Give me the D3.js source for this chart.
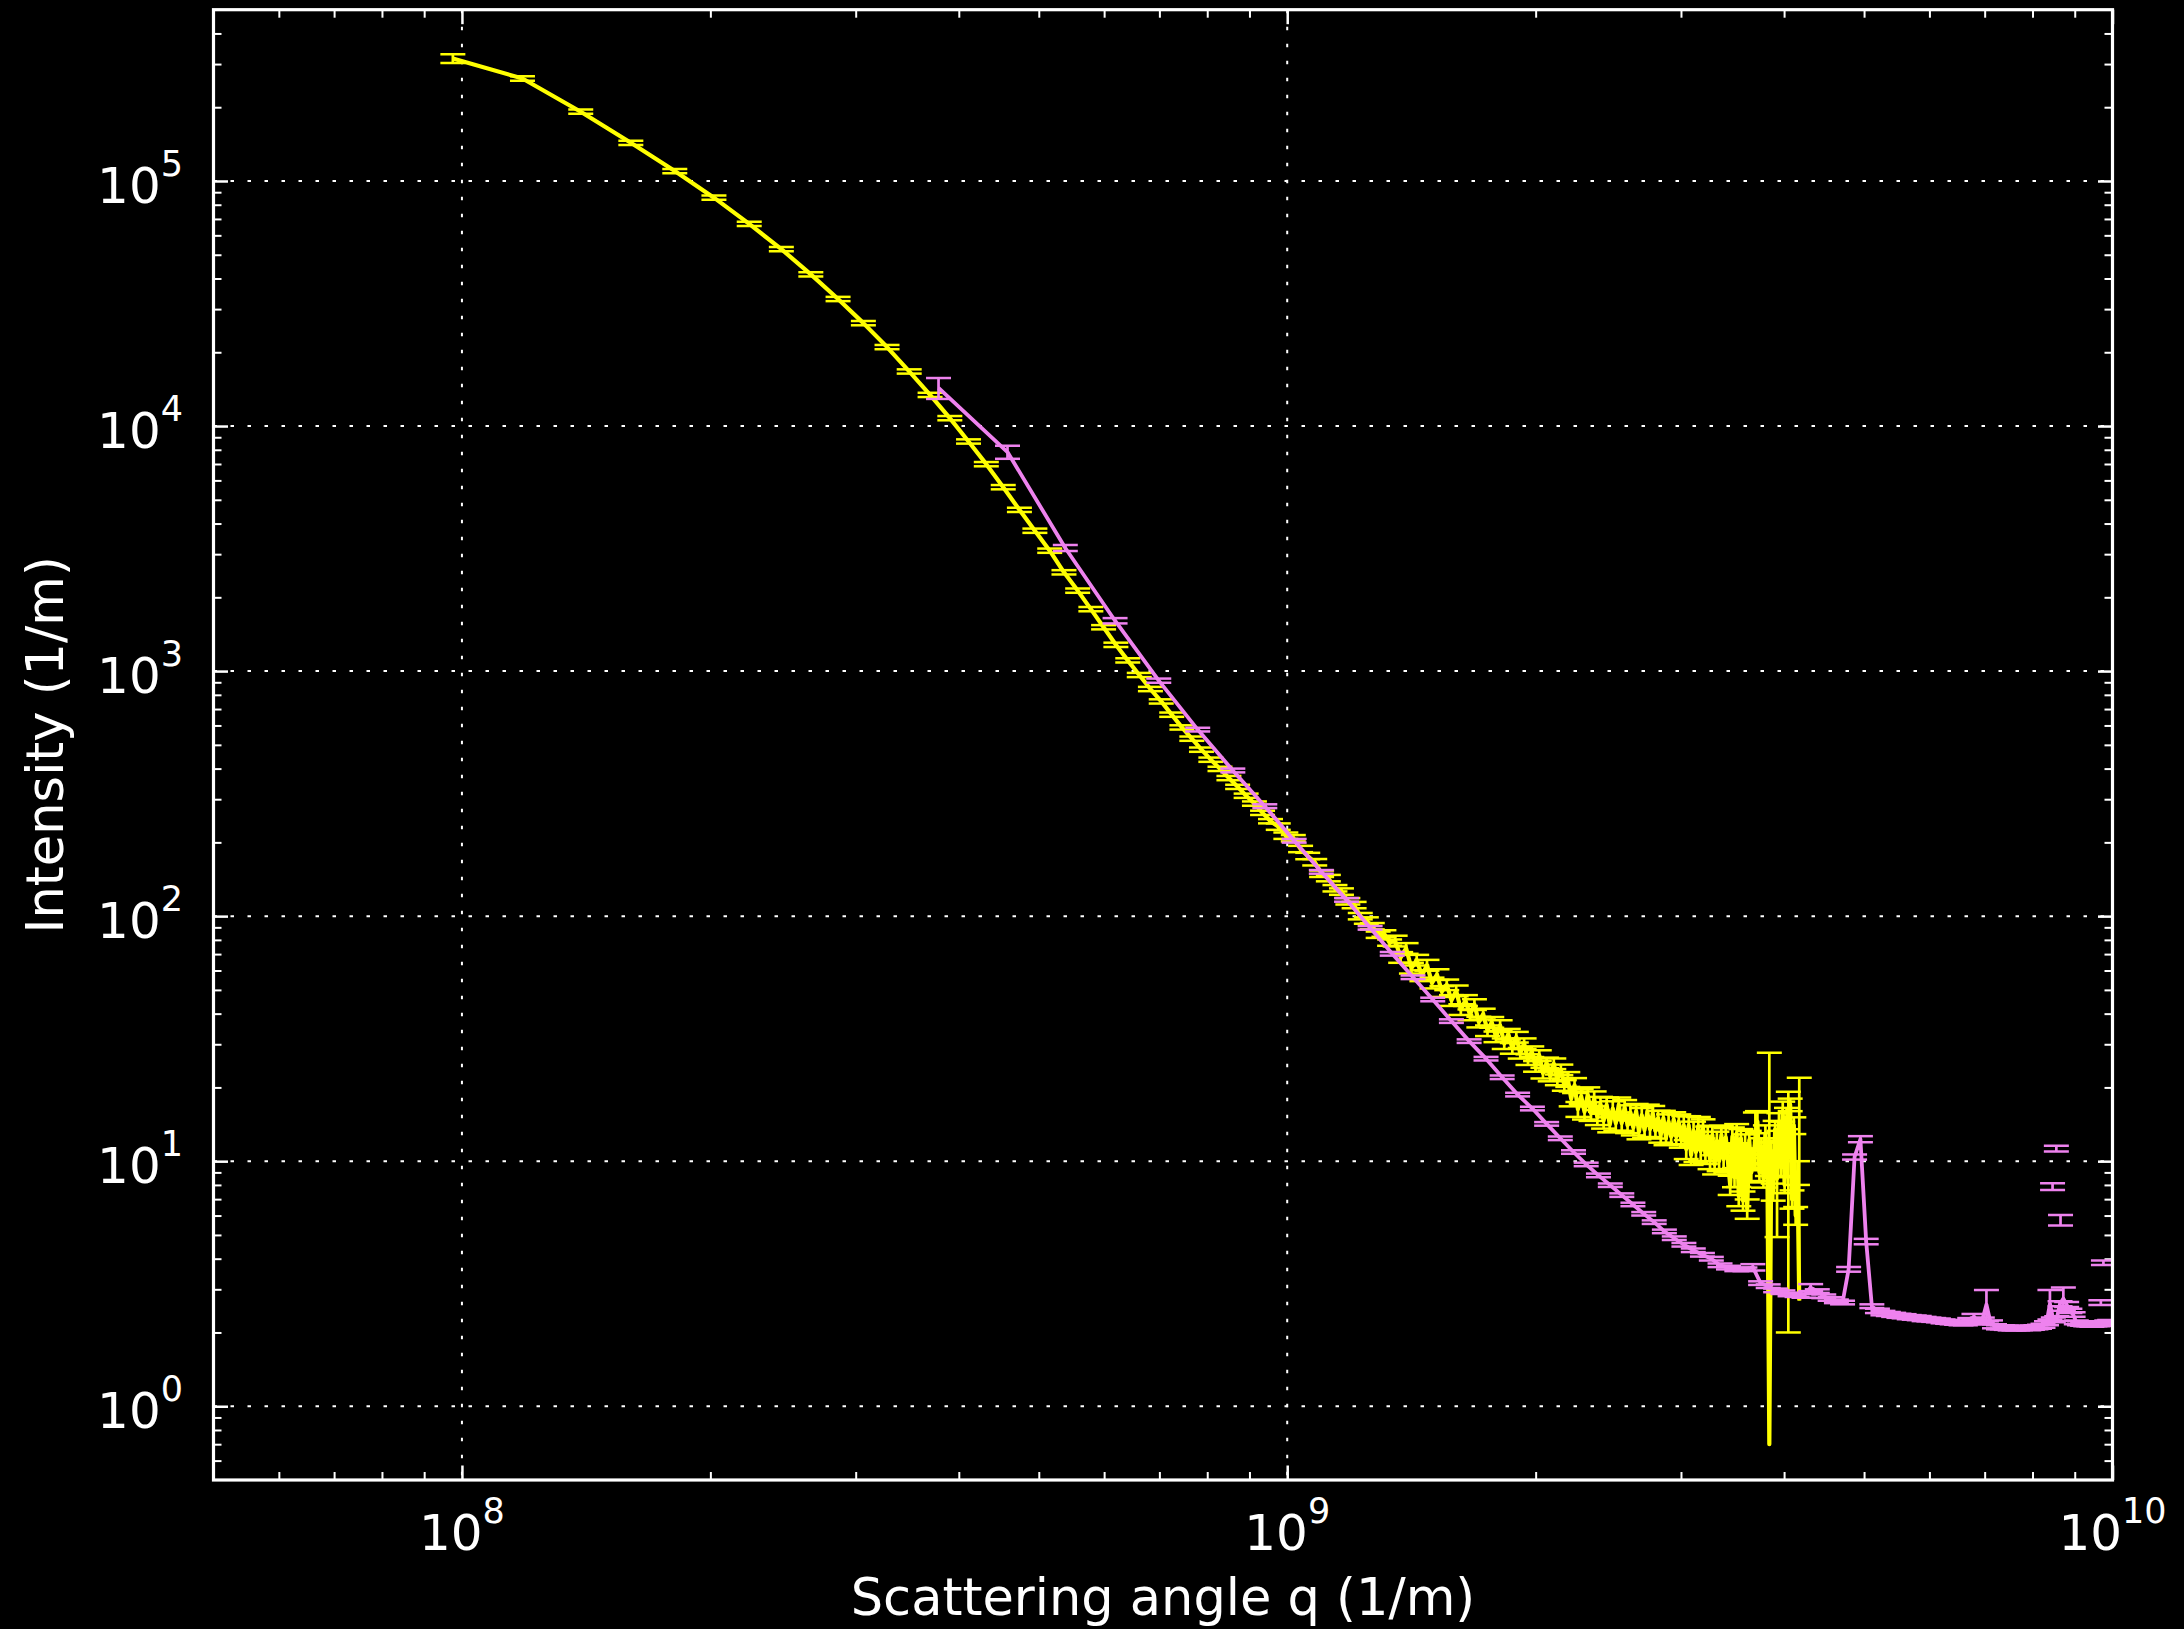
<!DOCTYPE html>
<html>
<head>
<meta charset="utf-8">
<script src="https://cdn.jsdelivr.net/npm/d3@7"></script>
<style>
  html, body { margin: 0; padding: 0; background: #000; }
  svg { display: block; }
</style>
</head>
<body>
<svg id="chart" width="2184" height="1629"></svg>
<script>
// Scattering vector q is stored in units of 1e8 1/m.
const Q_UNIT = 1e8;

// Sample A (yellow): q, intensity, one-sigma error
const sampleAQ = [
  0.975, 1.184, 1.393, 1.602, 1.811, 2.020, 2.229, 2.438, 2.647, 2.856,
  3.065, 3.274, 3.483, 3.692, 3.901, 4.110, 4.319, 4.528, 4.737, 4.946,
  5.155, 5.364, 5.573, 5.782, 5.991, 6.200, 6.409, 6.618, 6.827, 7.036,
  7.245, 7.454, 7.663, 7.872, 8.081, 8.290, 8.499, 8.708, 8.917, 9.126,
  9.335, 9.544, 9.753, 9.962, 10.171, 10.380, 10.589, 10.798, 11.007, 11.216,
  11.425, 11.634, 11.843, 12.052, 12.261, 12.470, 12.679, 12.888, 13.097, 13.306,
  13.515, 13.724, 13.933, 14.142, 14.351, 14.560, 14.769, 14.978, 15.187, 15.396,
  15.605, 15.814, 16.023, 16.232, 16.441, 16.650, 16.859, 17.068, 17.277, 17.486,
  17.695, 17.904, 18.113, 18.322, 18.531, 18.740, 18.949, 19.158, 19.367, 19.576,
  19.785, 19.994, 20.203, 20.412, 20.621, 20.830, 21.039, 21.248, 21.457, 21.666,
  21.875, 22.084, 22.293, 22.502, 22.711, 22.920, 23.129, 23.338, 23.547, 23.756,
  23.965, 24.174, 24.383, 24.592, 24.801, 25.010, 25.219, 25.428, 25.637, 25.846,
  26.055, 26.264, 26.473, 26.682, 26.891, 27.100, 27.309, 27.518, 27.727, 27.936,
  28.145, 28.354, 28.563, 28.772, 28.981, 29.190, 29.399, 29.608, 29.817, 30.026,
  30.235, 30.444, 30.653, 30.862, 31.071, 31.280, 31.489, 31.698, 31.907, 32.116,
  32.325, 32.534, 32.743, 32.952, 33.161, 33.370, 33.579, 33.788, 33.997, 34.206,
  34.415, 34.624, 34.833, 35.042, 35.251, 35.460, 35.669, 35.878, 36.087, 36.296,
  36.505, 36.714, 36.923, 37.132, 37.341, 37.550, 37.759, 37.968, 38.177, 38.386,
  38.595, 38.804, 39.013, 39.222, 39.431, 39.640, 39.849, 40.058, 40.267, 40.476,
  40.685, 40.894, 41.103, 41.312, 41.521, 41.730
];
const sampleAI = [
  316000, 262000, 191700, 143200, 109800, 85500, 66800, 52700, 41600, 33000,
  26300, 21000, 16700, 13400, 10770, 8650, 6990, 5630, 4550, 3740,
  3100, 2530, 2130, 1790, 1510, 1280, 1106, 964, 845, 752,
  664, 589, 530, 478, 435, 399, 366, 337, 310, 288,
  264, 244, 232, 213, 208, 188, 176, 166, 149, 143,
  130, 126, 115, 111, 100, 96, 91, 84, 85, 78,
  79.2, 67.9, 73.9, 61.4, 66.2, 57.2, 63.1, 53.4, 57.8, 49.3,
  52.5, 45.3, 49.6, 41.6, 45.3, 39.6, 43.6, 37.0, 39.9, 34.1,
  36.9, 32.2, 35.8, 30.2, 33.0, 28.9, 32.1, 27.6, 30.2, 26.0,
  28.0, 24.4, 27.0, 22.9, 25.2, 22.3, 25.0, 21.5, 23.6, 20.4,
  21.6, 18.0, 20.4, 16.3, 18.4, 15.9, 18.7, 15.7, 18.0, 15.1,
  17.1, 14.6, 17.0, 14.1, 16.4, 14.3, 17.0, 14.3, 16.6, 14.0,
  15.8, 13.7, 16.0, 13.2, 15.4, 13.4, 15.9, 13.5, 15.7, 13.3,
  15.0, 12.8, 15.0, 12.5, 14.5, 12.6, 14.8, 12.6, 14.5, 12.2,
  14.0, 11.2, 14.0, 10.6, 13.3, 10.9, 13.9, 11.0, 13.6, 10.7,
  12.7, 10.2, 12.8, 9.7, 12.1, 10.0, 12.8, 10.2, 12.5, 9.9,
  8.0, 12.6, 8.6, 13.0, 7.2, 12.4, 6.9, 11.8, 6.4, 12.2,
  9.0, 10.2, 12.5, 14.5, 9.0, 11.5, 8.5, 13.0, 9.5, 0.7,
  11, 7.5, 13.5, 8.5, 14.5, 9.5, 16, 8, 15, 10.6,
  17, 7, 14, 6, 9, 2.7
];
const sampleAErr = [
  13000, 5240, 3830, 2860, 2200, 1710, 1340, 1050, 830, 660,
  530, 420, 334, 268, 215, 173, 140, 113, 91, 75,
  62, 51, 43, 36, 30, 26, 22, 19, 17, 15,
  13.3, 11.8, 10.6, 9.6, 8.7, 8.0, 7.3, 6.7, 6.2, 5.8,
  5.3, 4.9, 7.0, 6.4, 6.2, 5.6, 5.3, 5.0, 4.5, 4.3,
  3.9, 3.8, 3.5, 3.3, 3.0, 2.9, 2.7, 2.5, 2.6, 2.3,
  4.0, 3.4, 3.7, 3.1, 3.3, 2.9, 3.2, 2.7, 2.9, 2.5,
  2.6, 2.3, 2.5, 2.1, 2.3, 2.0, 2.2, 1.85, 2.0, 1.7,
  1.85, 1.6, 1.8, 1.5, 1.65, 1.45, 1.6, 1.38, 1.5, 1.3,
  1.4, 1.22, 1.35, 1.15, 1.26, 1.12, 1.25, 1.08, 1.18, 1.02,
  1.5, 1.26, 1.43, 1.14, 1.29, 1.11, 1.31, 1.1, 1.26, 1.06,
  1.2, 1.02, 1.19, 0.99, 1.15, 1.0, 1.19, 1.0, 1.16, 0.98,
  1.1, 0.96, 1.12, 0.92, 1.08, 0.94, 1.11, 0.95, 1.1, 0.93,
  1.05, 0.9, 1.05, 0.88, 1.02, 0.88, 1.04, 0.88, 1.02, 0.85,
  1.26, 1.0, 1.26, 0.95, 1.2, 0.98, 1.25, 0.99, 1.22, 0.96,
  1.14, 0.92, 1.15, 0.87, 1.09, 0.9, 1.15, 0.92, 1.13, 0.89,
  0.72, 1.13, 0.77, 1.17, 0.65, 1.12, 0.62, 1.06, 0.58, 1.1,
  0.81, 0.8, 3.3, 1.5, 0.7, 0.9, 0.7, 1.0, 0.8, 27,
  0.9, 0.6, 1.1, 3.6, 1.2, 0.8, 1.5, 0.6, 1.5, 8.6,
  1.0, 0.6, 1.1, 0.5, 1.0, 19.2
];

// Sample B (violet): q, intensity, one-sigma error
const sampleBQ = [
  3.780, 4.582, 5.384, 6.186, 6.988, 7.790, 8.592, 9.394, 10.196, 10.998,
  11.800, 12.602, 13.404, 14.206, 15.008, 15.810, 16.612, 17.414, 18.216, 19.018,
  19.820, 20.622, 21.424, 22.226, 23.028, 23.830, 24.632, 25.434, 26.236, 27.038,
  27.840, 28.642, 29.444, 30.246, 31.048, 31.850, 32.652, 33.454, 34.256, 35.058,
  35.860, 36.662, 37.464, 38.266, 39.068, 39.870, 40.672, 41.474, 42.276, 43.078,
  43.880, 44.682, 45.484, 46.286, 47.088, 47.890, 48.692, 49.494, 50.296, 51.098,
  51.900, 52.702, 53.504, 54.306, 55.108, 55.910, 56.712, 57.514, 58.316, 59.118,
  59.920, 60.722, 61.524, 62.326, 63.128, 63.930, 64.732, 65.534, 66.336, 67.138,
  67.940, 68.742, 69.544, 70.346, 71.148, 71.950, 72.752, 73.554, 74.356, 75.158,
  75.960, 76.762, 77.564, 78.366, 79.168, 79.970, 80.772, 81.574, 82.376, 83.178,
  83.980, 84.782, 85.584, 86.386, 87.188, 87.990, 88.792, 89.594, 90.396, 91.198,
  92.000, 92.802, 93.604, 94.406, 95.208, 96.010, 96.812, 97.614, 98.416, 99.218,
  100.020
];
const sampleBI = [
  14300, 7830, 3180, 1605, 914, 577, 393, 281, 203, 151.6,
  116.5, 89.6, 70.2, 56.3, 45.7, 37.3, 30.9, 26.2, 22.0, 18.7,
  16.4, 14.2, 12.4, 10.9, 9.7, 8.75, 7.98, 7.27, 6.66, 6.10,
  5.64, 5.17, 4.85, 4.56, 4.33, 4.15, 4.00, 3.76, 3.68, 3.62,
  3.62, 3.69, 3.18, 3.09, 2.97, 2.92, 2.86, 2.84, 2.82, 3.05,
  2.95, 2.81, 2.74, 2.68, 2.65, 3.62, 10.4, 12.3, 4.70, 2.56,
  2.45, 2.40, 2.38, 2.36, 2.34, 2.33, 2.31, 2.30, 2.29, 2.27,
  2.26, 2.25, 2.24, 2.22, 2.21, 2.20, 2.19, 2.18, 2.18, 2.24,
  2.32, 2.20, 2.25, 2.60, 2.20, 2.12, 2.10, 2.10, 2.09, 2.08,
  2.08, 2.08, 2.09, 2.09, 2.08, 2.09, 2.10, 2.11, 2.13, 2.18,
  2.62, 2.25, 2.28, 2.62, 2.75, 2.60, 2.45, 2.37, 2.20, 2.18,
  2.17, 2.16, 2.16, 2.15, 2.16, 2.16, 2.17, 2.18, 2.20, 2.21,
  2.20
];
const sampleBErr = [
  1400, 480, 90, 40, 18, 10, 7, 5, 3.5, 2.6,
  2.0, 1.5, 1.2, 0.95, 0.77, 0.63, 0.52, 0.44, 0.37, 0.32,
  0.28, 0.24, 0.21, 0.18, 0.16, 0.15, 0.13, 0.12, 0.11, 0.1,
  0.095, 0.087, 0.082, 0.077, 0.073, 0.07, 0.068, 0.064, 0.062, 0.061,
  0.061, 0.11, 0.054, 0.052, 0.05, 0.049, 0.048, 0.048, 0.048, 0.1,
  0.05, 0.048, 0.046, 0.045, 0.045, 0.08, 0.25, 0.35, 0.12, 0.045,
  0.05, 0.05, 0.045, 0.045, 0.045, 0.045, 0.045, 0.045, 0.045, 0.045,
  0.04, 0.04, 0.04, 0.04, 0.04, 0.04, 0.04, 0.04, 0.04, 0.05,
  0.06, 0.04, 0.05, 0.38, 0.04, 0.04, 0.04, 0.04, 0.04, 0.04,
  0.04, 0.04, 0.04, 0.04, 0.04, 0.04, 0.04, 0.04, 0.04, 0.04,
  0.36, 0.05, 0.05, 0.06, 0.3, 0.06, 0.05, 0.05, 0.04, 0.04,
  0.04, 0.04, 0.04, 0.04, 0.04, 0.04, 0.04, 0.04, 0.04, 0.04,
  0.04
];

// Sample B points that stand apart from the connected trace
const sampleBLooseQ = [85.5, 84.6, 86.5, 97.5, 96.8];
const sampleBLooseI = [11.26, 7.87, 5.75, 3.85, 2.65];
const sampleBLooseErr = [0.3, 0.25, 0.28, 0.08, 0.06];

// Axis decades and labels
const xDecades = [8, 9, 10];
const yDecades = [0, 1, 2, 3, 4, 5];
const xLabel = "Scattering angle q (1/m)";
const yLabel = "Intensity (1/m)";

const W = 2184, H = 1629;
const L = 213.5, R = 2112.5, T = 9.7, B = 1480;
const FONT = "'DejaVu Sans', 'Liberation Sans', sans-serif";

const svg = d3.select("#chart");
svg.append("rect").attr("width", W).attr("height", H).attr("fill", "#000");

const x = d3.scaleLog().domain([5e7, 1e10]).range([L, R]);
const y = d3.scaleLog().domain([0.5, 5e5]).range([B, T]);

svg.append("defs").append("clipPath").attr("id", "plotArea")
  .append("rect").attr("x", L).attr("y", T).attr("width", R - L).attr("height", B - T);

// Minor tick positions (2..9 per decade) inside each domain
function minorTicks(scale) {
  const [a, b] = scale.domain();
  const out = [];
  for (let e = Math.floor(Math.log10(a)); e <= Math.ceil(Math.log10(b)); e++) {
    for (let m = 2; m <= 9; m++) {
      const v = m * Math.pow(10, e);
      if (v > a * 1.0001 && v < b * 0.9999) out.push(v);
    }
  }
  return out;
}
const xMajor = xDecades.map(e => Math.pow(10, e));
const yMajor = yDecades.map(e => Math.pow(10, e));
const xMinor = minorTicks(x);
const yMinor = minorTicks(y);

// Dotted grid at major decades
const grid = svg.append("g").attr("stroke", "#fff").attr("stroke-width", 2)
  .attr("stroke-dasharray", "3.5 13.5");
grid.selectAll("line.gx").data(xMajor).join("line").attr("class", "gx")
  .attr("x1", d => x(d)).attr("x2", d => x(d)).attr("y1", T).attr("y2", B);
grid.selectAll("line.gy").data(yMajor).join("line").attr("class", "gy")
  .attr("x1", L).attr("x2", R).attr("y1", d => y(d)).attr("y2", d => y(d));

// Inward ticks on all four sides
function tickLayer(axisFn, scale, values, size, width, tx, ty) {
  const g = svg.append("g").attr("transform", `translate(${tx},${ty})`)
    .call(axisFn(scale).tickValues(values).tickSize(-size).tickFormat(""));
  g.select(".domain").remove();
  g.selectAll("line").attr("stroke", "#fff").attr("stroke-width", width);
}
[[d3.axisBottom, 0, B], [d3.axisTop, 0, T]].forEach(([fn, tx, ty]) => {
  tickLayer(fn, x, xMajor, 14.5, 2.5, tx, ty);
  tickLayer(fn, x, xMinor, 8, 2, tx, ty);
});
[[d3.axisLeft, L, 0], [d3.axisRight, R, 0]].forEach(([fn, tx, ty]) => {
  tickLayer(fn, y, yMajor, 14.5, 2.5, tx, ty);
  tickLayer(fn, y, yMinor, 8, 2, tx, ty);
});

// Error-bar series
function drawSeries(qs, vals, errs, color, lineWidth, connect) {
  const pts = qs.map((q, i) => ({ q: q * Q_UNIT, v: vals[i], e: errs[i] }));
  const g = svg.append("g").attr("clip-path", "url(#plotArea)");
  if (connect) {
    g.append("path").datum(pts)
      .attr("d", d3.line().x(d => x(d.q)).y(d => y(d.v)))
      .attr("fill", "none").attr("stroke", color)
      .attr("stroke-width", lineWidth).attr("stroke-linejoin", "round");
  }
  const capHalf = 12.5;
  g.selectAll("line.stem").data(pts).join("line").attr("class", "stem")
    .attr("x1", d => x(d.q)).attr("x2", d => x(d.q))
    .attr("y1", d => y(d.v + d.e))
    .attr("y2", d => (d.v - d.e > 0 ? y(d.v - d.e) : y(d.v)))
    .attr("stroke", color).attr("stroke-width", 2.7);
  const caps = [];
  pts.forEach(d => {
    caps.push({ q: d.q, v: d.v + d.e });
    if (d.v - d.e > 0) caps.push({ q: d.q, v: d.v - d.e });
  });
  g.selectAll("line.cap").data(caps).join("line").attr("class", "cap")
    .attr("x1", d => x(d.q) - capHalf).attr("x2", d => x(d.q) + capHalf)
    .attr("y1", d => y(d.v)).attr("y2", d => y(d.v))
    .attr("stroke", color).attr("stroke-width", 2.5);
}

drawSeries(sampleAQ, sampleAI, sampleAErr, "#ffff00", 4.2, true);
drawSeries(sampleBQ, sampleBI, sampleBErr, "#ee82ee", 3.8, true);
drawSeries(sampleBLooseQ, sampleBLooseI, sampleBLooseErr, "#ee82ee", 3.8, false);

// Frame
svg.append("rect").attr("x", L).attr("y", T).attr("width", R - L).attr("height", B - T)
  .attr("fill", "none").attr("stroke", "#fff").attr("stroke-width", 3.2);

// Tick labels as 10^n
function powerLabel(sel, exp) {
  sel.append("tspan").text("10");
  sel.append("tspan").attr("dy", -27).attr("font-size", 35).text(String(exp));
}
xDecades.forEach(e => {
  const t = svg.append("text").attr("x", x(Math.pow(10, e))).attr("y", 1550)
    .attr("text-anchor", "middle").attr("fill", "#fff")
    .attr("font-family", FONT).attr("font-size", 50);
  powerLabel(t, e);
});
yDecades.forEach(e => {
  const t = svg.append("text").attr("x", 183).attr("y", y(Math.pow(10, e)) + 22)
    .attr("text-anchor", "end").attr("fill", "#fff")
    .attr("font-family", FONT).attr("font-size", 50);
  powerLabel(t, e);
});

// Axis titles
svg.append("text").attr("x", (L + R) / 2).attr("y", 1615)
  .attr("text-anchor", "middle").attr("fill", "#fff")
  .attr("font-family", FONT).attr("font-size", 51).text(xLabel);
svg.append("text").attr("transform", `translate(63,${(T + B) / 2}) rotate(-90)`)
  .attr("text-anchor", "middle").attr("fill", "#fff")
  .attr("font-family", FONT).attr("font-size", 51).text(yLabel);
</script>
</body>
</html>
